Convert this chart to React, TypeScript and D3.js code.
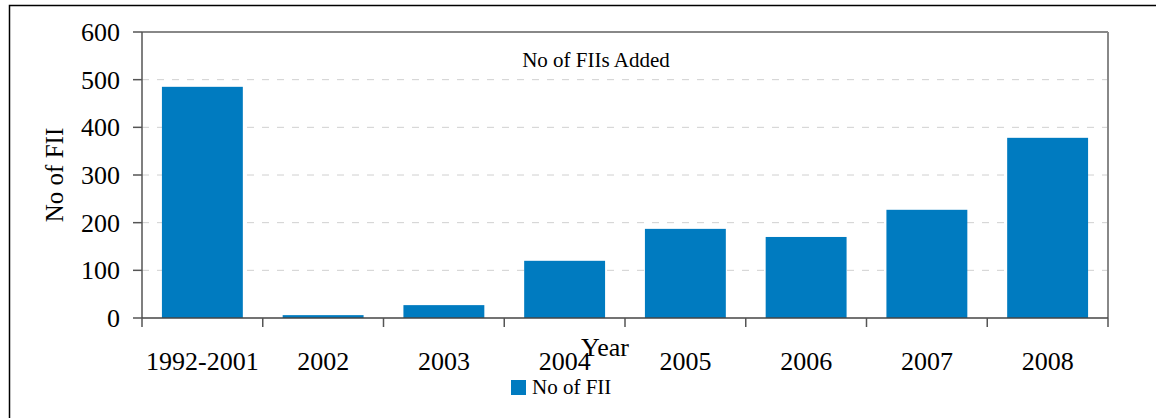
import React from 'react';
import * as d3 from 'd3';

const categories = ['1992-2001', '2002', '2003', '2004', '2005', '2006', '2007', '2008'];
const fiiAdded = [485, 6, 27, 120, 187, 170, 227, 378];
const yTicks = [0, 100, 200, 300, 400, 500, 600];

const W = 1156;
const H = 418;
const plot = { left: 142, right: 1108, top: 32, bottom: 318 };
const font = '"Liberation Serif", "Times New Roman", serif';

export default function App() {
  const x = d3.scaleBand<string>()
    .domain(categories)
    .range([plot.left, plot.right])
    .paddingInner(0.33)
    .paddingOuter(0.165);

  const y = d3.scaleLinear().domain([0, 600]).range([plot.bottom, plot.top]);

  const bandStep = (plot.right - plot.left) / categories.length;
  const boundaries = d3.range(categories.length + 1).map(i => plot.left + i * bandStep);

  return (
    <svg
      width={W}
      height={H}
      style={{ position: 'absolute', left: 0, top: 0, background: '#fff' }}
    >
      {/* outer frame */}
      <rect x={9.5} y={5.5} width={1160} height={430} fill="none" stroke="#000" strokeWidth={1.5} />

      {/* grid lines */}
      {yTicks.filter(t => t > 0 && t < 600).map(t => (
        <line
          key={t}
          x1={plot.left}
          x2={plot.right}
          y1={y(t)}
          y2={y(t)}
          stroke="#d0d0d0"
          strokeWidth={1}
          strokeDasharray="7,8"
        />
      ))}

      {/* plot border top / right */}
      <line x1={plot.left} x2={plot.right} y1={plot.top} y2={plot.top} stroke="#888" strokeWidth={2} />
      <line x1={plot.right} x2={plot.right} y1={plot.top} y2={plot.bottom} stroke="#888" strokeWidth={2} />

      {/* bars */}
      {categories.map((c, i) => (
        <rect
          key={c}
          x={x(c)}
          y={y(fiiAdded[i])}
          width={x.bandwidth()}
          height={plot.bottom - y(fiiAdded[i])}
          fill="#007bc0"
        />
      ))}

      {/* y axis */}
      <line x1={plot.left} x2={plot.left} y1={plot.top} y2={plot.bottom} stroke="#555" strokeWidth={1.5} />
      {yTicks.map(t => (
        <g key={t}>
          <line x1={plot.left - 9} x2={plot.left} y1={y(t)} y2={y(t)} stroke="#555" strokeWidth={1.5} />
          <text
            x={120}
            y={y(t)}
            dy="0.35em"
            textAnchor="end"
            fontFamily={font}
            fontSize={26}
            fill="#000"
          >
            {t}
          </text>
        </g>
      ))}

      {/* x axis */}
      <line x1={plot.left} x2={plot.right} y1={plot.bottom} y2={plot.bottom} stroke="#444" strokeWidth={1.5} />
      {boundaries.map((b, i) => (
        <line key={i} x1={b} x2={b} y1={plot.bottom} y2={plot.bottom + 9} stroke="#555" strokeWidth={1.5} />
      ))}
      {categories.map(c => (
        <text
          key={c}
          x={(x(c) ?? 0) + x.bandwidth() / 2}
          y={370}
          textAnchor="middle"
          fontFamily={font}
          fontSize={26}
          fill="#000"
        >
          {c}
        </text>
      ))}

      {/* axis titles */}
      <text x={605} y={356} textAnchor="middle" fontFamily={font} fontSize={26} fill="#000">
        Year
      </text>
      <text
        transform={`translate(63,${(plot.top + plot.bottom) / 2}) rotate(-90)`}
        textAnchor="middle"
        fontFamily={font}
        fontSize={25}
        fill="#000"
      >
        No of FII
      </text>

      {/* chart title */}
      <text x={596} y={67} textAnchor="middle" fontFamily={font} fontSize={21} fill="#000">
        No of FIIs Added
      </text>

      {/* legend */}
      <rect x={511} y={380} width={15} height={15} fill="#007bc0" />
      <text x={532} y={394} fontFamily={font} fontSize={21} fill="#000">
        No of FII
      </text>
    </svg>
  );
}
